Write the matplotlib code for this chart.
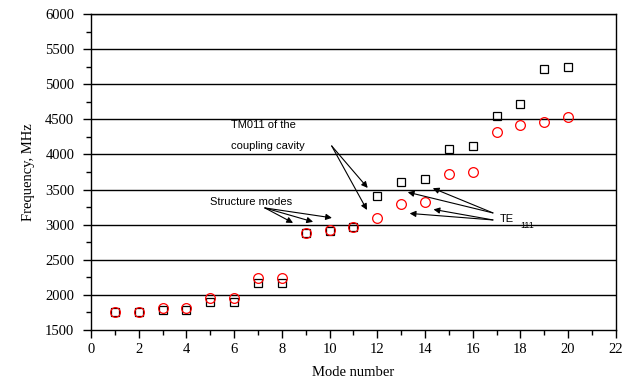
import matplotlib.pyplot as plt
from matplotlib.ticker import MultipleLocator

modes = list(range(1, 21))
freq_squares = [1750, 1750, 1785, 1790, 1900, 1905, 2165, 2175, 2878, 2915,
                2963, 3408, 3608, 3650, 4076, 4123, 4550, 4715, 5218, 5245]
freq_circles = [1752, 1752, 1818, 1820, 1955, 1955, 2235, 2240, 2880, 2918,
                2965, 3100, 3295, 3320, 3726, 3750, 4316, 4416, 4460, 4535]

serif = "Liberation Serif"
sans = "Liberation Sans"

fig = plt.figure(figsize=(6.22, 3.81), dpi=100)
ax = fig.add_axes([0.1463, 0.1339, 0.8437, 0.8294])

for y in range(2000, 6001, 500):
    ax.axhline(y, color="black", lw=1.0, zorder=1)

ax.plot(modes, freq_squares, linestyle="none", marker="s", markersize=6.3,
        markerfacecolor="none", markeredgecolor="black", markeredgewidth=0.9, zorder=3)
ax.plot(modes, freq_circles, linestyle="none", marker="o", markersize=7,
        markerfacecolor="none", markeredgecolor="red", markeredgewidth=0.9, zorder=3)

ax.set_xlim(0, 22)
ax.set_ylim(1500, 6000)
ax.xaxis.set_major_locator(MultipleLocator(2))
ax.xaxis.set_minor_locator(MultipleLocator(1))
ax.yaxis.set_major_locator(MultipleLocator(500))
ax.yaxis.set_minor_locator(MultipleLocator(250))
ax.tick_params(which="major", direction="out", length=6, width=1, labelsize=10.5)
ax.tick_params(axis="y", which="major", pad=6)
ax.tick_params(which="minor", direction="out", length=3.5, width=1)
for lab in ax.get_xticklabels() + ax.get_yticklabels():
    lab.set_fontfamily(serif)
for s in ax.spines.values():
    s.set_linewidth(1.0)

ax.set_xlabel("Mode number", fontsize=10.5, fontfamily=serif, labelpad=7)
ax.set_ylabel("Frequency, MHz", fontsize=10.5, fontfamily=serif, labelpad=7)

arrow = dict(arrowstyle="-|>", color="black", lw=0.8, mutation_scale=9,
             shrinkA=0, shrinkB=0)
tfont = dict(fontsize=8, fontfamily=sans, va="center", ha="left")

# TM011 label
ax.text(5.87, 4420, "TM011 of the", **tfont)
ax.text(5.85, 4121, "coupling cavity", **tfont)
for end in [(11.6, 3523), (11.57, 3209)]:
    ax.annotate("", xy=end, xytext=(10.09, 4121), arrowprops=arrow)

# Structure modes label
ax.text(4.99, 3323, "Structure modes", **tfont)
for end in [(8.47, 3025), (9.31, 3040), (10.1, 3097)]:
    ax.annotate("", xy=end, xytext=(7.29, 3238), arrowprops=arrow)

# TE111 label
ax.text(17.14, 3081, "TE", **tfont)
ax.text(18.0, 2985, "111", fontsize=6.5, fontfamily=sans, va="center", ha="left")
for end in [(13.28, 3462), (14.33, 3519)]:
    ax.annotate("", xy=end, xytext=(16.85, 3167), arrowprops=arrow)
for end in [(13.36, 3160), (14.36, 3217)]:
    ax.annotate("", xy=end, xytext=(16.85, 3067), arrowprops=arrow)

fig.savefig("out.png", dpi=100)
